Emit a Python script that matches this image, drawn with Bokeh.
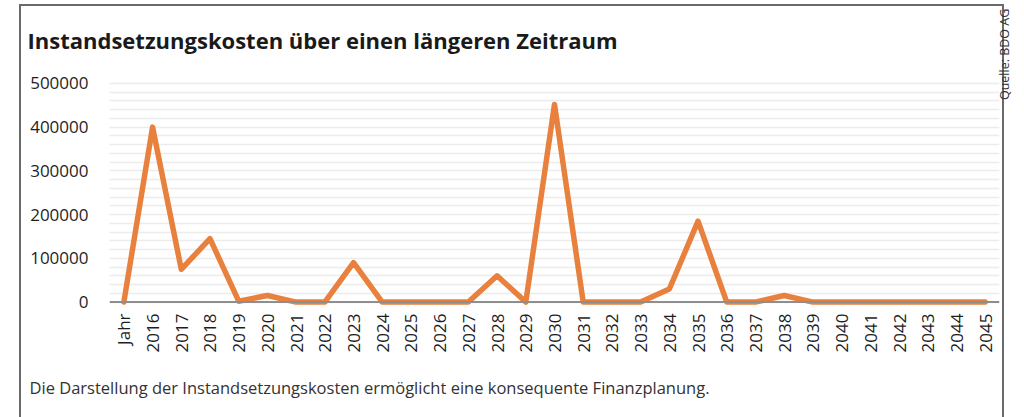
import math
from bokeh.plotting import figure
from bokeh.models import (FactorRange, Range1d, FixedTicker, BasicTickFormatter,
                          Span, ColumnDataSource, LinearAxis, Title)
from bokeh.embed import file_html
from bokeh.resources import INLINE

# ---- data ----
years = ["Jahr"] + [str(y) for y in range(2016, 2046)]
costs = [0, 400000, 75000, 145000, 2000, 15000, 0, 0, 90000, 0,
         0, 0, 0, 60000, 0, 452000, 0, 0, 0, 30000,
         185000, 0, 0, 15000, 0, 0, 0, 0, 0, 0, 0]
y_ticks = [0, 100000, 200000, 300000, 400000, 500000]
grid_ticks = list(range(0, 500001, 20000))

title_text = "Instandsetzungskosten über einen längeren Zeitraum"
caption_text = "Die Darstellung der Instandsetzungskosten ermöglicht eine konsequente Finanzplanung."
source_text = "Quelle: BDO AG"

ORANGE = "#E8803E"
TEXT = "#1e1e1e"
BORDER = "#6a6a6a"

src = ColumnDataSource(data=dict(x=years, y=costs))

p = figure(width=1024, height=417, output_backend="svg", toolbar_location=None,
           x_range=FactorRange(factors=years), y_range=Range1d(-7830, 508950),
           title=title_text)
p.min_border_left = 109
p.min_border_right = 23
p.min_border_top = 79
p.min_border_bottom = 107
p.outline_line_color = None
p.background_fill_color = "white"
p.border_fill_color = None
# grey frame around the chart (left, top, right) drawn as the element background
p.styles = {
    "background-color": "white",
    "background-image": (f"linear-gradient({BORDER},{BORDER}), "
                         f"linear-gradient({BORDER},{BORDER}), "
                         f"linear-gradient({BORDER},{BORDER})"),
    "background-size": "2px 420px, 985px 2px, 2px 420px",
    "background-position": "19px 4px, 19px 4px, 1002px 4px",
    "background-repeat": "no-repeat",
}

# title
p.title.text_font = "Open Sans"
p.title.text_font_style = "bold"
p.title.text_font_size = "22px"
p.title.text_color = "#1a1a1a"
p.title.align = "left"
p.title.vertical_align = "top"
p.title.offset = -82
p.title.standoff = 46

# grid
p.xgrid.grid_line_color = None
p.ygrid.ticker = FixedTicker(ticks=grid_ticks)
p.ygrid.grid_line_color = "#ececec"
p.ygrid.grid_line_width = 1.5

# y axis
p.yaxis.ticker = FixedTicker(ticks=y_ticks)
p.yaxis.formatter = BasicTickFormatter(use_scientific=False)
p.yaxis.axis_line_color = None
p.yaxis.major_tick_line_color = None
p.yaxis.minor_tick_line_color = None
p.yaxis.major_tick_out = 0
p.yaxis.major_tick_in = 0
p.yaxis.minor_tick_out = 0
p.yaxis.major_label_standoff = 21
p.yaxis.major_label_text_font = "Open Sans"
p.yaxis.major_label_text_font_size = "17px"
p.yaxis.major_label_text_color = TEXT

# x axis
p.xaxis.axis_line_color = None
p.xaxis.major_tick_line_color = None
p.xaxis.major_tick_out = 0
p.xaxis.major_tick_in = 0
p.xaxis.major_label_orientation = math.pi / 2
p.xaxis.major_label_standoff = 8
p.xaxis.major_label_text_font = "Open Sans"
p.xaxis.major_label_text_font_size = "17px"
p.xaxis.major_label_text_color = TEXT

# caption below the axis labels
p.add_layout(Title(text=caption_text, text_font="Open Sans", text_font_size="16.5px",
                   text_font_style="normal", text_color="#333333",
                   align="left", offset=-80, standoff=37), "below")

# source note on the right, as a single rotated tick label
p.extra_y_ranges = {"src": Range1d(-0.909, 0.091)}
src_axis = LinearAxis(y_range_name="src")
src_axis.ticker = FixedTicker(ticks=[0], minor_ticks=[])
src_axis.major_label_overrides = {0: source_text}
src_axis.axis_line_color = None
src_axis.major_tick_line_color = None
src_axis.minor_tick_line_color = None
src_axis.major_tick_out = 0
src_axis.major_tick_in = 0
src_axis.minor_tick_out = 0
src_axis.minor_tick_in = 0
src_axis.major_label_standoff = 5
src_axis.major_label_text_font = "Open Sans"
src_axis.major_label_text_font_size = "12.5px"
src_axis.major_label_text_color = "#333333"
src_axis.major_label_orientation = math.pi / 2
p.add_layout(src_axis, "right")

# zero line
p.add_layout(Span(location=0, dimension="width", line_color="#8e8e8e", line_width=2))

# data line
p.line(x="x", y="y", source=src, line_color=ORANGE, line_width=5.5,
       line_join="round", line_cap="round")

open("out.html", "w").write(file_html(p, INLINE))
